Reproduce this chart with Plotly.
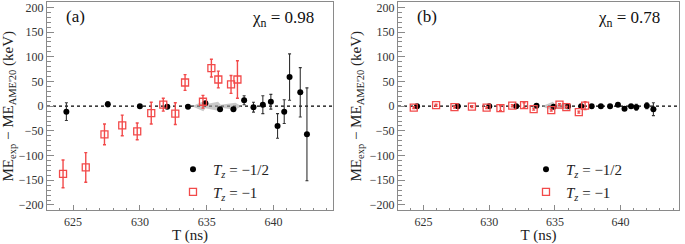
import plotly.graph_objects as go

# ---- data: panel (a) ----
t_half = [624.5, 627.6, 630.0, 632.05, 633.6, 634.9, 636.0, 637.0, 637.8, 638.5,
          639.2, 639.8, 640.3, 640.8, 641.2, 642.0, 642.5]
a_half_y = [-11, 4, 0, -1, -1, 6, -6, -6, 12, -2, 3, 9, -40, -11, 59, 28, -57]
a_half_e = [18, 5, 2, 3, 2, 3, 3, 3, 9, 10, 18, 15, 25, 24, 47, 50, 94]

t_one = [624.25, 625.95, 627.35, 628.68, 629.8, 630.85, 631.75, 632.65, 633.38,
         634.72, 635.35, 635.87, 636.82, 637.3]
a_one_y = [-137, -124, -57, -39, -51, -14, 3, -15, 48, 9, 77, 54, 44, 54]
a_one_e = [28, 30, 21, 21, 17, 22, 13, 22, 16, 13, 18, 17, 18, 38]

# ---- data: panel (b) ----
b_half_y = [0, 0, 0, 0, 1, -1, 0, 0, 0, 0, 0, 3, -5, 0, -2, 1, -6]
b_half_e = [2, 2, 2, 2, 2, 2, 2, 2, 2, 2, 2, 3, 3, 3, 6, 6, 13]
b_one_y = [-3, 2, -2, -1, -3, -4, 1, 2, -6, -8, 3, -2, -12, 1]
b_one_e = [2, 2, 2, 2, 2, 5, 2, 5, 2, 2, 2, 2, 2, 8]

# gray calibration band (position, half width)
band_x = [633.9, 634.75, 634.9, 635.85, 636.05, 637.15, 637.6]
band_w = [0, 10, 4, 9, 3, 7, 0]
bandb_x = [634.0, 634.85, 635.0, 635.95, 636.2]
bandb_w = [0, 9, 3, 7, 0]

chi = ["0.98", "0.78"]
labels = ["(a)", "(b)"]
xticks = [625, 630, 635, 640]
yticks = [-200, -150, -100, -50, 0, 50, 100, 150, 200]

RED = "#f24a4a"
FONT = "Liberation Serif, Times New Roman, DejaVu Serif, serif"
FRAME = "#8a8a8a"

fig = go.Figure()

def band_poly(xs, ws):
    px = list(xs) + list(xs)[::-1]
    py = [w for w in ws] + [-w for w in ws][::-1]
    return px, py

panels = [
    ("x", "y", band_x, band_w, a_half_y, a_half_e, a_one_y, a_one_e, "legend"),
    ("x2", "y2", bandb_x, bandb_w, b_half_y, b_half_e, b_one_y, b_one_e, "legend2"),
]
for xa, ya, bx, bw, hy, he, oy, oe, lg in panels:
    px, py = band_poly(bx, bw)
    fig.add_trace(go.Scatter(x=px, y=py, xaxis=xa, yaxis=ya, fill="toself",
                             fillcolor="rgba(165,165,165,0.6)", line=dict(width=0),
                             mode="lines", showlegend=False, hoverinfo="skip"))
    fig.add_trace(go.Scatter(
        x=t_half, y=hy, xaxis=xa, yaxis=ya, mode="markers",
        name="<i>T</i><sub><i>z</i></sub> = \u22121/2", legend=lg,
        marker=dict(symbol="circle", size=6, color="black"),
        error_y=dict(type="data", array=he, color="#333333", thickness=1.1, width=1.5)))
    fig.add_trace(go.Scatter(
        x=t_one, y=oy, xaxis=xa, yaxis=ya, mode="markers",
        name="<i>T</i><sub><i>z</i></sub> = \u22121", legend=lg,
        marker=dict(symbol="square-open", size=7, color=RED, line=dict(width=1.3, color=RED)),
        error_y=dict(type="data", array=oe, color=RED, thickness=1.4, width=1.5)))

xdoms = [[47 / 685, 333 / 685], [398 / 685, 679 / 685]]
ydom = [1 - 212 / 244, 1 - 1 / 244]

def xax(dom, anchor):
    return dict(domain=dom, range=[623.05, 644.45], anchor=anchor,
                tickvals=xticks, ticks="inside", ticklen=5, tickcolor=FRAME,
                minor=dict(dtick=1, tick0=623, ticks="inside", ticklen=2.5, tickcolor=FRAME),
                showline=True, linecolor=FRAME, linewidth=1, mirror=True,
                showgrid=False, zeroline=False, ticklabeloverflow="allow",
                tickfont=dict(family=FONT, size=12, color="#333"),
                title=dict(text="T (ns)", font=dict(family=FONT, size=15, color="#222"), standoff=0))

def yax(anchor):
    return dict(domain=ydom, range=[-211, 211], anchor=anchor,
                tickvals=yticks, ticktext=[str(v).replace("-", "\u2212") for v in yticks],
                ticks="inside", ticklen=7, tickcolor=FRAME,
                minor=dict(dtick=10, tick0=0, ticks="inside", ticklen=3.5, tickcolor=FRAME),
                showline=True, linecolor=FRAME, linewidth=1, mirror=True,
                showgrid=False, zeroline=False, ticklabeloverflow="allow",
                tickfont=dict(family=FONT, size=12, color="#333"),
                title=dict(text="ME<sub>exp</sub> \u2212 ME<sub>AME'20</sub> (keV)",
                           font=dict(family=FONT, size=15, color="#222"), standoff=4))

fig.update_layout(
    width=685, height=244, margin=dict(l=0, r=0, t=0, b=0),
    paper_bgcolor="white", plot_bgcolor="white",
    xaxis=xax(xdoms[0], "y"), yaxis=yax("x"),
    xaxis2=xax(xdoms[1], "y2"), yaxis2=yax("x2"),
    legend=dict(x=173 / 685, y=1 - 154 / 244, xanchor="left", yanchor="top",
                bgcolor="rgba(0,0,0,0)", font=dict(family=FONT, size=15, color="#222"),
                itemwidth=30, tracegroupgap=0),
    legend2=dict(x=526 / 685, y=1 - 154 / 244, xanchor="left", yanchor="top",
                 bgcolor="rgba(0,0,0,0)", font=dict(family=FONT, size=15, color="#222"),
                 itemwidth=30, tracegroupgap=0),
    showlegend=True,
)

for i, xr in enumerate(["x", "x2"]):
    yr = "y" if xr == "x" else "y2"
    fig.add_shape(type="line", xref=f"{xr} domain", yref=yr, x0=0, x1=1, y0=0, y1=0,
                  line=dict(color="black", width=1.2, dash="dot"), layer="below")
    fig.add_annotation(xref=f"{xr} domain", yref="paper", x=0.06, y=1 - 16 / 244,
                       xanchor="left", yanchor="middle", showarrow=False,
                       text=labels[i], font=dict(family=FONT, size=17, color="#111"))
    fig.add_annotation(xref=f"{xr} domain", yref="paper", x=0.94, y=1 - 18 / 244,
                       xanchor="right", yanchor="middle", showarrow=False,
                       text=f"\u03c7<sub>n</sub> = {chi[i]}",
                       font=dict(family=FONT, size=17, color="#111"))

fig.write_html("out.html", config={"displayModeBar": False},
               post_script="document.body.style.margin='0px';document.body.style.overflow='hidden';")
